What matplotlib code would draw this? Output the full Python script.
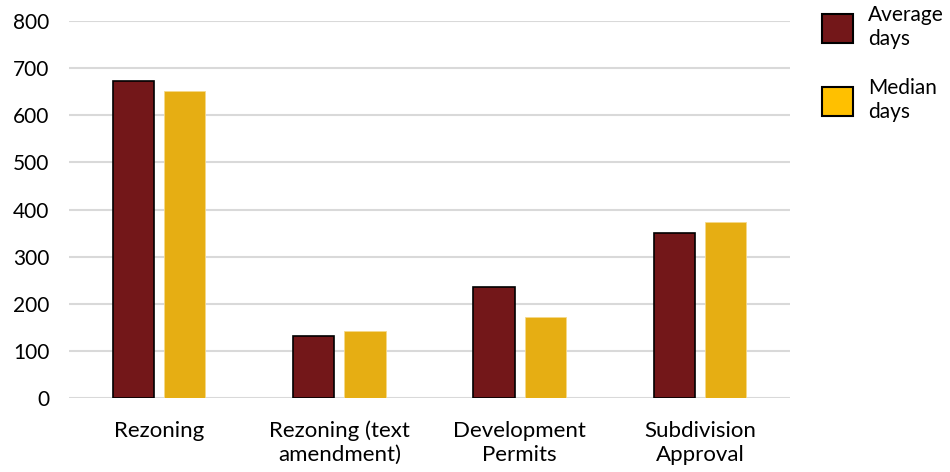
import matplotlib.pyplot as plt
import numpy as np
from matplotlib.patches import Patch

plt.rcParams['font.family'] = ['Lato', 'DejaVu Sans']

categories = ['Rezoning', 'Rezoning (text\namendment)', 'Development\nPermits', 'Subdivision\nApproval']
average_days = [673, 132, 236, 350]
median_days = [651, 143, 172, 374]
series_names = ['Average\ndays', 'Median\ndays']

avg_color = '#731719'
med_color = '#E6AE13'
med_legend_color = '#FFC000'

fig = plt.figure(figsize=(9.5, 4.72), dpi=100)
ax = fig.add_axes([0.0726, 0.156, 0.759, 0.800])

x = np.arange(len(categories))
w = 0.228
ax.bar(x - 0.142, average_days, w, color=avg_color, edgecolor='black', linewidth=1.2, zorder=3)
ax.bar(x + 0.142, median_days, w, color=med_color, edgecolor='#F5D98A', linewidth=0.6, zorder=3)

ax.set_xlim(-0.5, len(categories) - 0.5)
ax.set_ylim(0, 800)
ax.set_yticks(range(0, 801, 100))
ax.yaxis.grid(True, color='#D9D9D9', linewidth=1.5, zorder=0)
ax.set_axisbelow(True)
for s in ax.spines.values():
    s.set_visible(False)
ax.tick_params(axis='both', length=0, colors='black')
ax.tick_params(axis='y', pad=14, labelsize=15)
ax.tick_params(axis='x', pad=16, labelsize=16)
ax.set_xticks(x)
ax.set_xticklabels(categories, linespacing=1.25)

handles = [Patch(facecolor=avg_color, edgecolor='black', linewidth=1.5),
           Patch(facecolor=med_legend_color, edgecolor='black', linewidth=1.5)]
fig.legend(handles, series_names, loc='upper left', bbox_to_anchor=(0.85, 1.02),
           frameon=False, fontsize=15, handlelength=1.5, handleheight=1.75,
           handletextpad=0.7, labelspacing=1.4, borderpad=0.2)
for t in fig.legends[0].get_texts():
    t.set_linespacing(1.25)

fig.savefig('out.png', dpi=100)
